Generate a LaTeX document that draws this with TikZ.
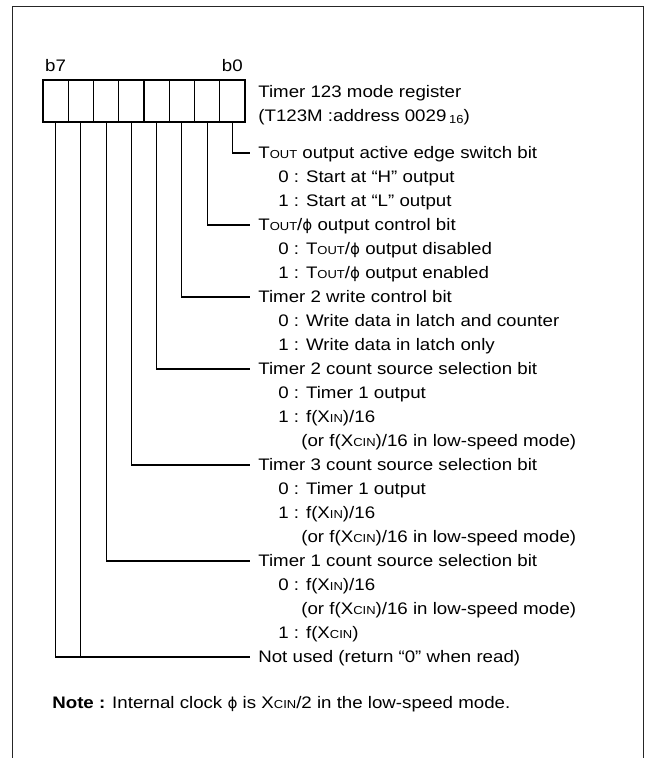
\documentclass[tikz,border=0pt]{standalone}
\usepackage{fontspec}
\setmainfont{Liberation Sans}[FakeStretch=1.12]
\newfontfamily\symfont{DejaVu Sans}[FakeStretch=1.0]
\usetikzlibrary{positioning}
\newcommand{\smc}[1]{{\fontsize{6.6}{7}\selectfont #1}}
\newcommand{\Tout}{T\smc{OUT}}
\newcommand{\Xin}{X\smc{IN}}
\newcommand{\Xcin}{X\smc{CIN}}
\newcommand{\phis}{{\symfont\fontsize{8.6}{10}\selectfont ϕ}}
\tikzstyle{txt} = [anchor=west, inner sep=0pt, text height=6.8pt, text depth=0pt, font=\fontsize{9.5}{11}\selectfont]
\tikzstyle{field} = [txt, inner xsep=0.16cm]
\tikzstyle{cell} = [rectangle, draw=black, line width=0.7pt, minimum width=0.505cm, minimum height=0.84cm, inner sep=0pt]
\tikzstyle{wire} = [line width=0.6pt]

\begin{document}
\begin{tikzpicture}[x=0.02cm,y=-0.02cm]
\useasboundingbox (0,0) rectangle (648,758);

% frame, open at the bottom
\draw[line width=1.1pt, black!85] (12.5,758) -- (12.5,6.5) -- (643.5,6.5) -- (643.5,758);

% register cells, b7 on the left
\foreach \b in {0,...,7}
  \node (bit\b) [cell] at ({43+25.25*(7.5-\b)},101) {};
\node (lb7) [above=0.03cm of bit7, font=\fontsize{9.5}{11}\selectfont] {b7};
\node (lb0) [above=0.03cm of bit0, font=\fontsize{9.5}{11}\selectfont] {b0};

\node (reg1) [txt] at (258,92) {Timer 123 mode register};
\node (reg2) [txt] at (258,116) {(T123M :address 0029\,\raisebox{-0.2ex}{\smc{16}})};

% bit fields
\node (f0) [field] at (250,153) {\Tout\ output active edge switch bit};
\node [txt] at (278,177) {0 : Start at “H” output};
\node [txt] at (278,201) {1 : Start at “L” output};

\node (f1) [field] at (250,225) {\Tout/\phis\ output control bit};
\node [txt] at (278,249) {0 : \Tout/\phis\ output disabled};
\node [txt] at (278,273) {1 : \Tout/\phis\ output enabled};

\node (f2) [field] at (250,297) {Timer 2 write control bit};
\node [txt] at (278,321) {0 : Write data in latch and counter};
\node [txt] at (278,345) {1 : Write data in latch only};

\node (f3) [field] at (250,369) {Timer 2 count source selection bit};
\node [txt] at (278,393) {0 : Timer 1 output};
\node [txt] at (278,417) {1 : f(\Xin)/16};
\node [txt] at (301,441) {(or f(\Xcin)/16 in low-speed mode)};

\node (f4) [field] at (250,465) {Timer 3 count source selection bit};
\node [txt] at (278,489) {0 : Timer 1 output};
\node [txt] at (278,513) {1 : f(\Xin)/16};
\node [txt] at (301,537) {(or f(\Xcin)/16 in low-speed mode)};

\node (f5) [field] at (250,561) {Timer 1 count source selection bit};
\node [txt] at (278,585) {0 : f(\Xin)/16};
\node [txt] at (301,609) {(or f(\Xcin)/16 in low-speed mode)};
\node [txt] at (278,633) {1 : f(\Xcin)};

\node (f6) [field] at (250,657) {Not used (return “0” when read)};

\node (note) [txt] at (52,703) {\textbf{Note :} Internal clock \phis\ is \Xcin/2 in the low-speed mode.};

% connectors
\draw[wire] (bit0.south) |- (f0.west);
\draw[wire] (bit1.south) |- (f1.west);
\draw[wire] (bit2.south) |- (f2.west);
\draw[wire] (bit3.south) |- (f3.west);
\draw[wire] (bit4.south) |- (f4.west);
\draw[wire] (bit5.south) |- (f5.west);
\draw[wire] (bit7.south) |- (f6.west);
\draw[wire] (bit6.south) -- (bit6.south |- f6.west);

\end{tikzpicture}
\end{document}
